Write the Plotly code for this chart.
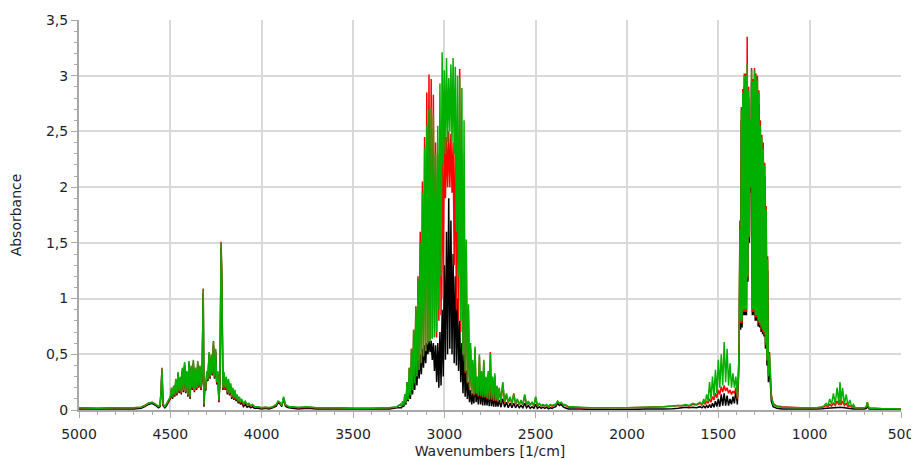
import plotly.graph_objects as go

# ---------------- data ----------------
# Region 1: 5000 - 3260 cm-1 (combination bands)
wn_high = [5000, 4900, 4800, 4700, 4660, 4640, 4620, 4600, 4580, 4565, 4556, 4550, 4546, 4540, 4530, 4520, 4510, 4500,
           4494, 4488, 4482, 4476, 4470, 4464, 4458, 4452, 4446, 4440, 4434, 4428, 4422, 4416, 4410, 4404, 4398, 4392, 4386, 4380, 4374, 4368, 4362, 4356, 4350, 4344, 4338, 4332, 4326,
           4320, 4316, 4312, 4306, 4300, 4294, 4288, 4282, 4276, 4270, 4264, 4258, 4252, 4246, 4240, 4234, 4228,
           4222, 4218, 4212, 4206, 4200, 4194, 4188, 4182, 4176, 4170, 4164, 4158, 4152, 4146, 4140, 4134, 4128, 4122, 4116, 4110,
           4100, 4090, 4080, 4070, 4060, 4050, 4040, 4020, 4000, 3980, 3960, 3940, 3920, 3910, 3900, 3890, 3880, 3870, 3860, 3850, 3830, 3800, 3750, 3700, 3600, 3500, 3400, 3300, 3260]
green_high = [0.02, 0.015, 0.02, 0.02, 0.025, 0.04, 0.06, 0.07, 0.05, 0.03, 0.04, 0.2, 0.37, 0.06, 0.03, 0.06, 0.09, 0.12,
              0.2, 0.12, 0.22, 0.14, 0.28, 0.15, 0.34, 0.17, 0.3, 0.16, 0.38, 0.18, 0.43, 0.17, 0.35, 0.14, 0.44, 0.12, 0.4, 0.2, 0.45, 0.18, 0.38, 0.2, 0.44, 0.22, 0.4, 0.2, 0.3,
              1.08, 0.05, 0.2, 0.2, 0.35, 0.28, 0.52, 0.3, 0.5, 0.33, 0.61, 0.3, 0.55, 0.25, 0.35, 0.09, 0.3,
              1.5, 1.15, 0.2, 0.34, 0.2, 0.3, 0.16, 0.28, 0.15, 0.24, 0.12, 0.2, 0.11, 0.18, 0.1, 0.14, 0.08, 0.12, 0.07, 0.1,
              0.06, 0.08, 0.05, 0.06, 0.04, 0.05, 0.03, 0.03, 0.02, 0.025, 0.02, 0.03, 0.05, 0.08, 0.07, 0.04, 0.12, 0.05, 0.04, 0.03, 0.03, 0.025, 0.03, 0.02, 0.02, 0.015, 0.015, 0.02, 0.03]
red_high = [0.02, 0.015, 0.02, 0.02, 0.025, 0.04, 0.06, 0.07, 0.05, 0.03, 0.04, 0.2, 0.38, 0.05, 0.03, 0.05, 0.08, 0.11,
            0.19, 0.11, 0.21, 0.13, 0.27, 0.14, 0.33, 0.16, 0.29, 0.15, 0.37, 0.17, 0.42, 0.16, 0.34, 0.13, 0.43, 0.11, 0.39, 0.19, 0.44, 0.17, 0.37, 0.19, 0.43, 0.21, 0.39, 0.19, 0.29,
            1.09, 0.04, 0.19, 0.19, 0.34, 0.27, 0.51, 0.29, 0.49, 0.32, 0.62, 0.29, 0.54, 0.24, 0.34, 0.08, 0.29,
            1.51, 1.17, 0.19, 0.33, 0.19, 0.29, 0.15, 0.27, 0.14, 0.23, 0.11, 0.19, 0.1, 0.17, 0.09, 0.13, 0.07, 0.11, 0.06, 0.09,
            0.05, 0.07, 0.045, 0.05, 0.035, 0.045, 0.03, 0.025, 0.02, 0.025, 0.02, 0.025, 0.045, 0.075, 0.065, 0.04, 0.11, 0.045, 0.035, 0.03, 0.025, 0.02, 0.025, 0.02, 0.02, 0.015, 0.015, 0.02, 0.025]
black_high = [0.01, 0.01, 0.01, 0.01, 0.015, 0.03, 0.05, 0.06, 0.04, 0.02, 0.03, 0.18, 0.35, 0.04, 0.02, 0.04, 0.07, 0.1,
              0.17, 0.1, 0.19, 0.12, 0.25, 0.13, 0.31, 0.15, 0.27, 0.14, 0.35, 0.16, 0.4, 0.15, 0.32, 0.12, 0.41, 0.1, 0.37, 0.18, 0.42, 0.16, 0.35, 0.18, 0.41, 0.2, 0.37, 0.18, 0.27,
              1.05, 0.03, 0.18, 0.18, 0.32, 0.26, 0.49, 0.28, 0.47, 0.31, 0.58, 0.28, 0.52, 0.23, 0.32, 0.07, 0.27,
              1.46, 1.12, 0.18, 0.31, 0.18, 0.27, 0.14, 0.25, 0.13, 0.21, 0.1, 0.17, 0.09, 0.15, 0.08, 0.11, 0.06, 0.09, 0.05, 0.07,
              0.03, 0.05, 0.025, 0.035, 0.02, 0.03, 0.015, 0.015, 0.01, 0.015, 0.01, 0.02, 0.035, 0.065, 0.055, 0.03, 0.1, 0.035, 0.025, 0.02, 0.015, 0.01, 0.015, 0.01, 0.01, 0.008, 0.008, 0.01, 0.02]

# Region 2: 3240 - 2844 cm-1 (C-H stretching band)
wn_ch = [3240, 3234, 3228, 3222, 3216, 3210, 3204, 3198, 3192, 3186,
         3180, 3174, 3168, 3162, 3156, 3150, 3144, 3138, 3132, 3126,
         3120, 3114, 3108, 3102, 3096, 3090, 3084, 3078, 3072, 3066,
         3060, 3054, 3048, 3042, 3036, 3030, 3024, 3018, 3012, 3006,
         3000, 2994, 2988, 2982, 2976, 2970, 2964, 2958, 2952, 2946,
         2940, 2934, 2928, 2922, 2916, 2910, 2904, 2898, 2892, 2886,
         2880, 2874, 2868, 2862, 2856, 2850, 2844]
green_ch = [0.05, 0.03, 0.08, 0.04, 0.14, 0.06, 0.25, 0.09, 0.38, 0.13,
            0.55, 0.18, 0.72, 0.24, 0.92, 0.3, 1.18, 0.36, 1.5, 0.42,
            1.95, 0.48, 2.35, 0.53, 2.55, 0.6, 2.7, 0.62, 2.72, 0.64,
            2.65, 0.65, 2.3, 0.7, 2.55, 0.9, 2.93, 1.2, 3.21, 2.2,
            3.05, 2.3, 3.16, 2.4, 2.98, 2.5, 3.1, 2.4, 3.16, 2.3,
            3.08, 1.6, 3.0, 1.2, 2.98, 0.8, 2.89, 0.5, 2.6, 0.35,
            1.53, 0.25, 0.95, 0.2, 0.6, 0.15, 0.45]
red_ch = [0.05, 0.035, 0.08, 0.045, 0.14, 0.065, 0.25, 0.095, 0.38, 0.135,
          0.55, 0.185, 0.72, 0.245, 0.93, 0.305, 1.2, 0.365, 1.6, 0.425,
          2.05, 0.485, 2.45, 0.535, 2.85, 0.605, 3.01, 0.625, 2.97, 0.645,
          2.83, 0.655, 2.4, 0.65, 2.3, 0.8, 2.5, 0.85, 2.6, 1.0,
          2.48, 1.9, 2.45, 2.0, 2.5, 2.0, 2.48, 1.95, 2.4, 1.3,
          2.5, 0.9, 2.45, 0.8, 3.06, 0.7, 2.3, 0.5, 2.0, 0.33,
          1.45, 0.24, 0.9, 0.19, 0.55, 0.14, 0.42]
black_ch = [0.02, 0.02, 0.04, 0.03, 0.07, 0.05, 0.12, 0.08, 0.18, 0.1,
            0.25, 0.14, 0.32, 0.18, 0.4, 0.22, 0.45, 0.28, 0.5, 0.32,
            0.55, 0.38, 0.58, 0.42, 0.6, 0.5, 0.62, 0.52, 0.62, 0.45,
            0.6, 0.35, 0.58, 0.25, 0.6, 0.2, 0.7, 0.22, 0.9, 0.3,
            1.3, 0.45, 1.6, 0.5, 1.9, 0.55, 1.7, 0.5, 1.4, 0.42,
            1.2, 0.4, 1.0, 0.35, 0.8, 0.25, 0.6, 0.15, 0.5, 0.12,
            0.35, 0.1, 0.25, 0.07, 0.18, 0.05, 0.15]

# Region 3: 2838 - 1720 cm-1 (tail and flat baseline)
wn_tail = [2838, 2832, 2826, 2820, 2814, 2808, 2802, 2796, 2790, 2784,
           2778, 2772, 2766, 2760, 2754, 2748, 2742, 2736, 2730, 2724,
           2718, 2712, 2706, 2700, 2690, 2680, 2670, 2660, 2650, 2640,
           2630, 2620, 2610, 2600, 2590, 2580, 2570, 2560, 2550, 2540,
           2530, 2520, 2510, 2500, 2490, 2480, 2470, 2460, 2450, 2440,
           2430, 2420, 2410, 2400, 2390, 2380, 2370, 2360, 2350, 2340,
           2320, 2300, 2250, 2200, 2100, 2000, 1900, 1800, 1750, 1720]
green_tail = [0.14, 0.57, 0.15, 0.3, 0.13, 0.5, 0.13, 0.35, 0.12, 0.45,
              0.12, 0.3, 0.11, 0.35, 0.1, 0.51, 0.1, 0.3, 0.09, 0.33,
              0.09, 0.22, 0.08, 0.2, 0.08, 0.25, 0.07, 0.15, 0.07, 0.12,
              0.06, 0.14, 0.06, 0.1, 0.05, 0.09, 0.05, 0.14, 0.05, 0.08,
              0.05, 0.07, 0.04, 0.12, 0.04, 0.06, 0.04, 0.05, 0.04, 0.05,
              0.03, 0.05, 0.04, 0.05, 0.05, 0.08, 0.06, 0.07, 0.05, 0.05,
              0.03, 0.03, 0.025, 0.02, 0.02, 0.02, 0.025, 0.03, 0.035, 0.04]
red_tail = [0.13, 0.55, 0.14, 0.29, 0.12, 0.48, 0.12, 0.34, 0.11, 0.43,
            0.11, 0.29, 0.1, 0.33, 0.09, 0.52, 0.09, 0.29, 0.08, 0.31,
            0.08, 0.21, 0.07, 0.19, 0.07, 0.24, 0.06, 0.14, 0.06, 0.11,
            0.05, 0.15, 0.05, 0.09, 0.045, 0.08, 0.045, 0.13, 0.045, 0.07,
            0.045, 0.065, 0.035, 0.11, 0.035, 0.055, 0.035, 0.045, 0.035, 0.045,
            0.025, 0.045, 0.035, 0.045, 0.045, 0.075, 0.055, 0.065, 0.045, 0.045,
            0.025, 0.025, 0.02, 0.02, 0.02, 0.02, 0.025, 0.03, 0.035, 0.04]
black_tail = [0.06, 0.3, 0.07, 0.18, 0.05, 0.25, 0.05, 0.18, 0.04, 0.2,
              0.04, 0.15, 0.04, 0.16, 0.035, 0.2, 0.035, 0.13, 0.03, 0.14,
              0.03, 0.1, 0.03, 0.09, 0.025, 0.1, 0.025, 0.07, 0.02, 0.06,
              0.02, 0.06, 0.02, 0.05, 0.02, 0.04, 0.02, 0.06, 0.02, 0.04,
              0.015, 0.03, 0.015, 0.05, 0.015, 0.03, 0.015, 0.025, 0.015, 0.025,
              0.01, 0.02, 0.015, 0.025, 0.03, 0.06, 0.04, 0.05, 0.03, 0.02,
              0.01, 0.01, 0.008, 0.005, 0.005, 0.005, 0.008, 0.01, 0.012, 0.015]

# Region 4: 1700 - 500 cm-1 (bending bands)
wn_low = [1700, 1680, 1660, 1640, 1620, 1600, 1590, 1580, 1572, 1564,
          1556, 1548, 1540, 1532, 1524, 1516, 1508, 1500, 1492, 1484,
          1476, 1468, 1460, 1452, 1444, 1436, 1428, 1420, 1412, 1404,
          1396, 1390, 1386, 1382, 1378, 1374, 1370, 1366, 1362, 1358,
          1354, 1350, 1346, 1342, 1338, 1334, 1330, 1326, 1322, 1318,
          1314, 1310, 1306, 1302, 1298, 1294, 1290, 1286, 1282, 1278,
          1274, 1270, 1266, 1262, 1258, 1254, 1250, 1246, 1242, 1238,
          1234, 1230, 1226, 1220, 1210, 1200, 1180, 1150, 1100, 1050,
          1000, 960, 930, 920, 910, 900, 890, 880, 870, 860,
          850, 840, 834, 828, 820, 810, 800, 790, 780, 770,
          760, 750, 730, 700, 690, 684, 680, 676, 670, 650,
          600, 550, 500]
green_low = [0.04, 0.05, 0.04, 0.06, 0.05, 0.07, 0.05, 0.1, 0.06, 0.14,
             0.08, 0.25, 0.1, 0.3, 0.12, 0.36, 0.15, 0.45, 0.2, 0.5,
             0.22, 0.61, 0.25, 0.55, 0.22, 0.42, 0.2, 0.33, 0.2, 0.3,
             0.12, 0.3, 0.6, 1.62, 0.8, 2.69, 0.8, 2.85, 0.9, 3.0,
             0.9, 3.0, 0.9, 3.11, 1.2, 2.87, 1.55, 2.6, 2.0, 3.05,
             0.9, 2.95, 0.9, 3.05, 0.85, 3.0, 0.85, 2.96, 0.8, 2.85,
             0.78, 2.55, 0.75, 2.45, 0.72, 2.34, 0.7, 2.2, 0.6, 1.8,
             0.45, 1.35, 0.3, 0.5, 0.12, 0.05, 0.03, 0.025, 0.02, 0.02,
             0.02, 0.02, 0.03, 0.04, 0.06, 0.04, 0.1, 0.05, 0.15, 0.05,
             0.2, 0.06, 0.25, 0.06, 0.2, 0.05, 0.14, 0.04, 0.09, 0.03,
             0.05, 0.02, 0.02, 0.02, 0.03, 0.07, 0.04, 0.02, 0.015, 0.015,
             0.012, 0.012, 0.01]
red_low = [0.035, 0.045, 0.035, 0.05, 0.045, 0.06, 0.045, 0.07, 0.05, 0.08,
           0.06, 0.1, 0.07, 0.12, 0.09, 0.15, 0.11, 0.18, 0.14, 0.21,
           0.16, 0.22, 0.17, 0.2, 0.15, 0.18, 0.14, 0.17, 0.15, 0.2,
           0.1, 0.28, 0.62, 1.7, 0.78, 2.72, 0.78, 2.88, 0.88, 3.02,
           0.88, 3.02, 0.88, 3.35, 1.18, 2.9, 1.55, 2.6, 2.0, 3.07,
           0.88, 2.97, 0.88, 3.07, 0.83, 3.02, 0.83, 3.0, 0.78, 2.87,
           0.76, 2.6, 0.73, 2.47, 0.7, 2.4, 0.68, 2.22, 0.58, 1.83,
           0.44, 1.38, 0.32, 0.52, 0.14, 0.06, 0.035, 0.03, 0.025, 0.02,
           0.02, 0.02, 0.025, 0.03, 0.04, 0.03, 0.05, 0.035, 0.06, 0.04,
           0.08, 0.045, 0.09, 0.045, 0.08, 0.04, 0.06, 0.03, 0.04, 0.025,
           0.03, 0.02, 0.02, 0.02, 0.03, 0.07, 0.04, 0.02, 0.015, 0.015,
           0.012, 0.012, 0.01]
black_low = [0.02, 0.025, 0.02, 0.025, 0.02, 0.03, 0.02, 0.035, 0.02, 0.04,
             0.02, 0.05, 0.02, 0.06, 0.025, 0.08, 0.03, 0.1, 0.03, 0.14,
             0.04, 0.15, 0.04, 0.13, 0.04, 0.1, 0.05, 0.12, 0.06, 0.18,
             0.05, 0.3, 0.55, 1.5, 0.72, 2.6, 0.74, 2.75, 0.85, 2.9,
             0.85, 2.9, 0.85, 3.0, 1.15, 2.8, 1.5, 2.5, 1.95, 2.95,
             0.85, 2.85, 0.85, 2.95, 0.8, 2.9, 0.8, 2.85, 0.75, 2.75,
             0.74, 2.45, 0.7, 2.35, 0.68, 2.25, 0.66, 2.1, 0.55, 1.7,
             0.4, 1.25, 0.25, 0.4, 0.08, 0.03, 0.015, 0.01, 0.01, 0.01,
             0.01, 0.01, 0.012, 0.014, 0.016, 0.016, 0.018, 0.018, 0.02, 0.02,
             0.022, 0.022, 0.024, 0.022, 0.022, 0.02, 0.018, 0.016, 0.014, 0.012,
             0.01, 0.01, 0.01, 0.01, 0.015, 0.04, 0.02, 0.01, 0.008, 0.008,
             0.006, 0.006, 0.006]

x_tick_vals = [5000, 4500, 4000, 3500, 3000, 2500, 2000, 1500, 1000, 500]
x_tick_labels = ["5000", "4500", "4000", "3500", "3000", "2500", "2000", "1500", "1000", "500"]
y_tick_vals = [0, 0.5, 1, 1.5, 2, 2.5, 3, 3.5]
y_tick_labels = ["0", "0,5", "1", "1,5", "2", "2,5", "3", "3,5"]

# ---------------- assemble ----------------
regions = [
    (wn_high, black_high, red_high, green_high),
    (wn_ch, black_ch, red_ch, green_ch),
    (wn_tail, black_tail, red_tail, green_tail),
    (wn_low, black_low, red_low, green_low),
]
wn, black, red, green = [], [], [], []
for w, b, r, g in regions:
    assert len(w) == len(b) == len(r) == len(g), (len(w), len(b), len(r), len(g))
    wn += w
    black += b
    red += r
    green += g

fig = go.Figure()
for ys, col in [(black, "#000000"), (red, "#ff0000"), (green, "#00b000")]:
    fig.add_trace(go.Scatter(x=wn, y=ys, mode="lines",
                             line=dict(color=col, width=1.5, simplify=False),
                             showlegend=False, hoverinfo="skip"))

font_family = "Verdana, DejaVu Sans, sans-serif"
axis_color = "#a8a8a8"
grid_color = "#d9d9d9"

# The page body adds an 8 px offset, so the figure is 8 px smaller on each side.
fig.update_layout(
    width=911, height=451,
    margin=dict(l=71, r=18, t=12, b=49, autoexpand=False),
    paper_bgcolor="white", plot_bgcolor="white",
    font=dict(family=font_family, size=14, color="#1e1e2a"),
)
fig.update_xaxes(
    range=[5000, 500], autorange=False, automargin=True,
    tickmode="array", tickvals=x_tick_vals, ticktext=x_tick_labels,
    showgrid=True, gridcolor=grid_color, gridwidth=2,
    showline=True, linecolor=axis_color, linewidth=2,
    ticks="outside", ticklen=6, tickwidth=1, tickcolor=axis_color,
    minor=dict(tickmode="linear", tick0=0, dtick=100, ticks="outside", ticklen=3,
               tickcolor=axis_color, showgrid=False),
    zeroline=False, ticklabelstandoff=4,
    title=dict(text="Wavenumbers [1/cm]", font=dict(size=14), standoff=5),
    tickfont=dict(size=14),
)
fig.update_yaxes(
    range=[0, 3.5], autorange=False, automargin=True,
    tickmode="array", tickvals=y_tick_vals, ticktext=y_tick_labels,
    showgrid=True, gridcolor=grid_color, gridwidth=2,
    showline=True, linecolor=axis_color, linewidth=2,
    ticks="outside", ticklen=6, tickwidth=1, tickcolor=axis_color,
    minor=dict(tickmode="linear", tick0=0, dtick=0.1, ticks="outside", ticklen=3,
               tickcolor=axis_color, showgrid=False),
    zeroline=False,
    title=dict(text="Absorbance", font=dict(size=14), standoff=22),
    tickfont=dict(size=14),
)

fig.write_html("out.html")
